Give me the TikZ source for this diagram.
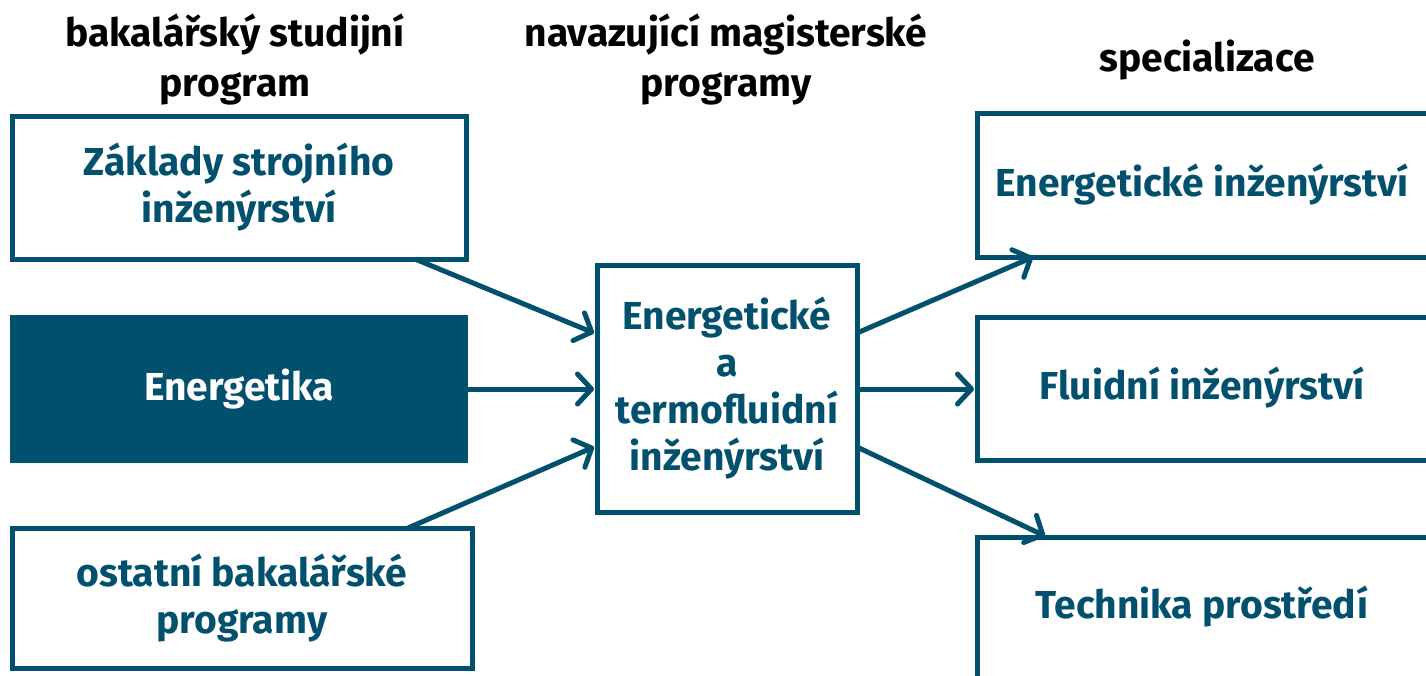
\documentclass[tikz,border=0pt]{standalone}
\usepackage{fontspec}
\setmainfont{Fira Sans}
\usetikzlibrary{arrows.meta}
\definecolor{teal}{RGB}{0,80,110}
\tikzset{
  bodyfont/.style={font=\fontsize{39}{47}\selectfont\bfseries},
  box/.style={draw=teal, line width=5pt, text=teal, bodyfont, align=center, inner sep=0pt},
  fillbox/.style={fill=teal, text=white, bodyfont, align=center, inner sep=0pt},
  lbl/.style={text=teal, bodyfont},
  head/.style={text=black, font=\fontsize{39}{50}\selectfont\bfseries, align=center},
  arr/.style={draw=teal, line width=5pt, -{Straight Barb[length=14pt,width=30pt,line cap=round,line join=round]}}
}
\begin{document}
\begin{tikzpicture}[x=1pt,y=-1pt]
\useasboundingbox (0,0) rectangle (1426,675);
\clip (0,0) rectangle (1426,675);
\node[head] (h1) at (235,60) {bakalářský studijní\\program};
\node[head] (h2) at (726,60) {navazující magisterské\\programy};
\node[head] (h3) at (1207,60) {specializace};

\node[box, minimum width=454pt, minimum height=143pt] (b1) at (239,187.5) {Základy strojního\\inženýrství};
\node[fillbox, minimum width=458pt, minimum height=148pt] (b2) at (239,389) {Energetika};
\node[box, minimum width=460pt, minimum height=140pt] (b3) at (242,598) {ostatní bakalářské\\programy};

\node[box, minimum width=260pt, minimum height=247pt] (c) at (727,388.5) {Energetické\\a\\termofluidní\\inženýrství};

\node[box, minimum width=500pt, minimum height=144pt] (r1) at (1227,185) {};
\node[box, minimum width=500pt, minimum height=143pt] (r2) at (1227,388.5) {};
\node[box, minimum width=500pt, minimum height=200pt] (r3) at (1227,637) {};
\node[lbl] (t1) at (1202,185) {Energetické inženýrství};
\node[lbl] (t2) at (1202,388) {Fluidní inženýrství};
\node[lbl] (t3) at (1202,607) {Technika prostředí};

\coordinate (a1s) at (415,259);
\coordinate (a1e) at (594,333);
\coordinate (a3s) at (408,528);
\coordinate (a3e) at (594,447);
\draw[arr] (a1s) -- (a1e);
\draw[arr] (b2.east) -- (594,389);
\draw[arr] (a3s) -- (a3e);

\coordinate (c1) at (857,333);
\coordinate (c3) at (857,447);
\draw[arr] (c1) -- (1033,257);
\draw[arr] (857,389) -- (974,389);
\draw[arr] (c3) -- (1045,536);
\end{tikzpicture}
\end{document}
